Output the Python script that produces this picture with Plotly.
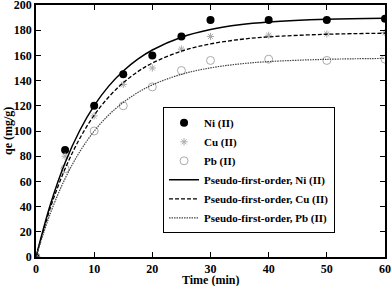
import plotly.graph_objects as go

# Experimental data
t_exp = [0, 5, 10, 15, 20, 25, 30, 40, 50, 60]
ni_exp = [0, 85, 120, 145, 160, 175, 188, 188, 188, 189]
cu_exp = [0, 80, 112, 137, 150, 165, 175, 176, 177, 178]
pb_exp = [0, 70, 100, 120, 135, 148, 156, 157, 156, 157]

# Fitted curves
t_fit = [0, 2.5, 5, 7.5, 10, 12.5, 15, 17.5, 20, 25, 30, 35, 40, 50, 60]
ni_fit = [0, 42.0, 74.8, 100.2, 120.1, 135.6, 147.6, 157.0, 164.3, 174.4, 180.5, 184.3, 186.5, 188.7, 189.5]
cu_fit = [0, 39.4, 70.0, 93.9, 112.5, 127.0, 138.3, 147.1, 153.9, 163.4, 169.1, 172.6, 174.7, 176.8, 177.6]
pb_fit = [0, 35.0, 62.2, 83.4, 99.9, 112.7, 122.7, 130.5, 136.6, 145.0, 150.1, 153.2, 155.1, 156.9, 157.6]

x_ticks = [0, 10, 20, 30, 40, 50, 60]
y_ticks = [0, 20, 40, 60, 80, 100, 120, 140, 160, 180, 200]

FONT = "Liberation Serif"

fig = go.Figure()
fig.add_trace(go.Scatter(x=t_exp, y=ni_exp, mode="markers", name="<b>Ni (II)</b>",
                         marker=dict(symbol="circle", size=8, color="black")))
fig.add_trace(go.Scatter(x=t_exp, y=cu_exp, mode="markers", name="<b>Cu (II)</b>",
                         marker=dict(symbol="asterisk-open", size=6, color="#aaaaaa",
                                     line=dict(width=1, color="#aaaaaa"))))
fig.add_trace(go.Scatter(x=t_exp, y=pb_exp, mode="markers", name="<b>Pb (II)</b>",
                         marker=dict(symbol="circle-open", size=8, color="#aaaaaa",
                                     line=dict(width=1, color="#aaaaaa"))))
fig.add_trace(go.Scatter(x=t_fit, y=ni_fit, mode="lines", name="<b>Pseudo-first-order, Ni (II)</b>",
                         line=dict(color="black", width=1.5, shape="spline")))
fig.add_trace(go.Scatter(x=t_fit, y=cu_fit, mode="lines", name="<b>Pseudo-first-order, Cu (II)</b>",
                         line=dict(color="black", width=1.3, dash="4px,2px", shape="spline")))
fig.add_trace(go.Scatter(x=t_fit, y=pb_fit, mode="lines", name="<b>Pseudo-first-order, Pb (II)</b>",
                         line=dict(color="#444444", width=1.2, dash="1.5px,1px", shape="spline")))

axis_common = dict(showline=True, linecolor="black", linewidth=1.5, mirror="ticks",
                   ticks="inside", ticklen=5, tickcolor="black", showgrid=False,
                   zeroline=False, automargin=False, ticklabeloverflow="allow",
                   tickfont=dict(family=FONT, size=12, color="black"))

fig.update_xaxes(range=[0, 60], tickvals=x_ticks, ticktext=[f"<b>{v}</b>" for v in x_ticks],
                 ticklabelstandoff=0, **axis_common)
fig.update_yaxes(range=[0, 200], tickvals=y_ticks, ticktext=[f"<b>{v}</b>" for v in y_ticks],
                 ticklabelstandoff=0, **axis_common)

fig.add_annotation(text="<b>Time (min)</b>", xref="paper", yref="paper",
                   x=0.5, y=0, yshift=-14, xanchor="center", yanchor="top", showarrow=False,
                   font=dict(family=FONT, size=12, color="black"))
fig.add_annotation(text="<b>qe (mg/g)</b>", xref="paper", yref="paper",
                   x=0, y=0.5, xshift=-37, xanchor="left", yanchor="middle", showarrow=False,
                   textangle=-90, font=dict(family=FONT, size=12, color="black"))

fig.update_layout(
    width=392, height=286,
    margin=dict(l=36, r=7, t=5, b=29),
    plot_bgcolor="white", paper_bgcolor="white",
    showlegend=True,
    legend=dict(x=0.364, y=0.594, xanchor="left", yanchor="top",
                bgcolor="white", bordercolor="black", borderwidth=1,
                font=dict(family=FONT, size=11, color="black"),
                tracegroupgap=0, itemwidth=30),
)

fig.write_html("out.html", config={"displayModeBar": False},
               post_script="document.body.style.margin='0';document.body.style.overflow='hidden';")
